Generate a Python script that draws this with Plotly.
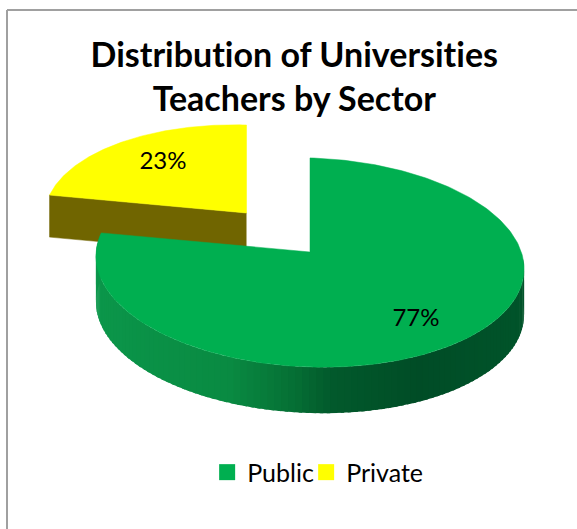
import math
import plotly.graph_objects as go

categories = ["Public", "Private"]
values = [77, 23]
top_colors = ["#00AF50", "#FFFF00"]
title_lines = ["Distribution of Universities", "Teachers by Sector"]

# projection of the tilted 3-D pie onto the page (k = perspective strength)
GEOM = {
    "Public": dict(cx=310, cy=252, a=213, b=103.5, depth=46),
    "Private": dict(cx=246.5, cy=213, a=201, b=96.8, depth=42),
}
K = 0.1
SHEAR = 0.03
FONT = "Lato, Liberation Sans"


def pt(g, turn, dz=0.0):
    ang = 2 * math.pi * turn
    w = 1 + K * math.cos(ang)
    dx = g["a"] * math.sin(ang) / w
    dy = -g["b"] * math.cos(ang) / w
    return g["cx"] + dx, g["cy"] + dy + SHEAR * dx + dz


def arc(g, t0, t1, dz=0.0, n=120):
    pts = [pt(g, t0 + (t1 - t0) * i / n, dz) for i in range(n + 1)]
    return [p[0] for p in pts], [p[1] for p in pts]


WALL_STOPS = [(97, (11, 150, 74)), (233, (9, 138, 66)), (300, (5, 110, 52)),
              (333, (2, 90, 44)), (420, (0, 76, 38)), (525, (0, 84, 42))]


def wall_color(x):
    for (x0, c0), (x1, c1) in zip(WALL_STOPS, WALL_STOPS[1:]):
        if x <= x1:
            f = max(0, (x - x0) / (x1 - x0))
            return "rgb(%d,%d,%d)" % tuple(round(c0[i] + (c1[i] - c0[i]) * f) for i in range(3))
    return "rgb(%d,%d,%d)" % WALL_STOPS[-1][1]


fig = go.Figure()


def poly(xs, ys, color, lw=0.5):
    fig.add_trace(go.Scatter(x=xs, y=ys, mode="lines", fill="toself", fillcolor=color,
                             line=dict(color=color, width=lw), showlegend=False, hoverinfo="skip"))


total = sum(values)
start = {}
acc = 0
for c, v in zip(categories, values):
    start[c] = (acc / total, (acc + v) / total)
    acc += v

# Private slice (behind)
g = GEOM["Private"]
t0, t1 = start["Private"]
ax, ay = g["cx"], g["cy"]
ex, ey = pt(g, t0)
poly([ax, ex, ex, ax], [ay, ey, ey + g["depth"], ay + g["depth"]], "#706500")
xs, ys = arc(g, t0, t1)
poly([ax] + xs + [ax], [ay] + ys + [ay], top_colors[1])

# Public slice: outer wall in shaded strips, then top face
g = GEOM["Public"]
t0, t1 = start["Public"]
lo, hi = 0.25, t1
N = 110
for i in range(N):
    a0 = lo + (hi - lo) * i / N
    a1 = min(lo + (hi - lo) * (i + 1.5) / N, hi)
    xa, ya = arc(g, a0, a1, 0, 4)
    xb, yb = arc(g, a0, a1, g["depth"], 4)
    poly(xa + xb[::-1], ya + yb[::-1], wall_color(xa[0]), 0)
ax, ay = g["cx"], g["cy"]
xs, ys = arc(g, t0, t1, 0, 240)
poly([ax] + xs + [ax], [ay] + ys + [ay], top_colors[0])

# percentage labels
fig.add_trace(go.Scatter(x=[416, 163], y=[320, 163], mode="text",
                         text=[f"{v}%" for v in values], showlegend=False, hoverinfo="skip",
                         textfont=dict(family=FONT, size=24, color="#000000")))

# legend
for c, col in zip(categories, top_colors):
    fig.add_trace(go.Scatter(x=[None], y=[None], mode="markers", name=c,
                             marker=dict(symbol="square", size=16, color=col)))

fig.update_layout(
    width=577, height=529, margin=dict(l=0, r=0, t=0, b=0),
    paper_bgcolor="white", plot_bgcolor="white",
    xaxis=dict(range=[0, 577], visible=False, fixedrange=True),
    yaxis=dict(range=[529, 0], visible=False, fixedrange=True),
    legend=dict(orientation="h", x=0.359, y=0.107, xanchor="left", yanchor="middle",
                font=dict(family=FONT, size=25, color="#000000"),
                itemsizing="trace", itemwidth=30, entrywidth=54, entrywidthmode="pixels",
                bgcolor="rgba(0,0,0,0)"),
    annotations=[dict(text="<b>" + title_lines[0] + "<br>" + title_lines[1] + "</b>",
                      x=294, y=75, xref="x", yref="y", showarrow=False, align="center",
                      font=dict(family=FONT, size=34, color="#000000"))],
    shapes=[dict(type="line", x0=7, x1=7, y0=10, y1=529, line=dict(color="#a0a0a0", width=2)),
            dict(type="line", x0=7, x1=577, y0=10, y1=10, line=dict(color="#a0a0a0", width=2))],
)
css = ("text{font-variant-ligatures:none!important;font-feature-settings:'liga' 0!important;}"
       ".legend .scrollbox, .legend .groups, .legend .traces{clip-path:none!important;}"
       ".legend svg, .legend{overflow:visible!important;}")
fig.write_html("out.html", config={"displayModeBar": False},
               post_script="document.body.style.margin='0';"
                           "var s=document.createElement('style');"
                           f"s.textContent=\"{css}\";"
                           "document.head.appendChild(s);")
